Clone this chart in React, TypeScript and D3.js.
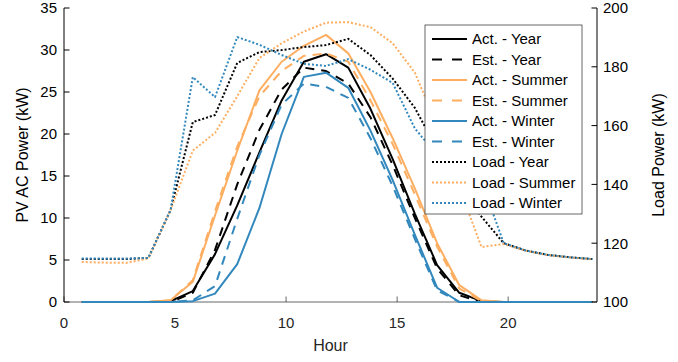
import * as d3 from "d3";

// hours at which values were logged (shifted slightly left of the integer hour)
const hours = [0.8, 1.8, 2.8, 3.8, 4.8, 5.8, 6.8, 7.8, 8.8, 9.8, 10.8, 11.8, 12.8, 13.8, 14.8, 15.8, 16.8, 17.8, 18.8, 19.8, 20.8, 21.8, 22.8, 23.8];

// PV AC power (kW), left axis
const actYear = [0, 0, 0, 0, 0.1, 1.3, 5.7, 11.5, 17.8, 24, 28.6, 29.5, 27.9, 23, 17, 10.5, 4.4, 1.1, 0.1, 0, 0, 0, 0, 0];
const estYear = [0, 0, 0, 0, 0, 1.1, 6.2, 14, 20.5, 25.3, 27.9, 27.5, 26, 22, 16.3, 10, 4, 0.8, 0, 0, 0, 0, 0, 0];
const actSummer = [0, 0, 0, 0, 0.2, 2.4, 10.3, 18, 25.2, 28.6, 30.5, 31.8, 29.6, 25, 19.5, 13.5, 7, 2, 0.2, 0, 0, 0, 0, 0];
const estSummer = [0, 0, 0, 0, 0.2, 2.6, 10.8, 18.5, 24.5, 27.5, 29.3, 29.6, 28.6, 24, 18.8, 12.8, 6.6, 1.6, 0.1, 0, 0, 0, 0, 0];
const actWinter = [0, 0, 0, 0, 0, 0.1, 1, 4.5, 11.2, 20, 26.8, 27.3, 25.5, 20.4, 14.5, 8, 1.7, 0, 0, 0, 0, 0, 0, 0];
const estWinter = [0, 0, 0, 0, 0, 0.2, 1.9, 9.9, 17.5, 23.5, 26, 25.6, 24.3, 19.5, 13.8, 7.5, 1.4, 0, 0, 0, 0, 0, 0, 0];

// Load power (kW), right axis
const loadYear = [114.6, 114.6, 114.6, 115, 131.3, 161.2, 163.6, 181.3, 185, 185.7, 186.7, 187.4, 189.5, 184, 176, 166, 152, 140, 129, 120, 117.5, 116, 115.2, 114.6];
const loadSummer = [113.6, 113.4, 113.3, 114.8, 131.3, 151.5, 157.5, 170, 183, 188, 192, 195, 195.2, 193.5, 188, 178, 160, 139, 118.7, 119.7, 117.4, 115.9, 115.1, 114.5];
const loadWinter = [114.8, 114.8, 114.8, 115, 131.3, 176.5, 169.7, 190.1, 187.5, 184, 181, 180.3, 182.6, 179, 174.5, 159, 150, 146, 141, 120, 117.5, 116, 115.2, 114.6];

const xTicks = [0, 5, 10, 15, 20];
const leftTicks = [0, 5, 10, 15, 20, 25, 30, 35];
const rightTicks = [100, 120, 140, 160, 180, 200];

const BLACK = "#000000";
const ORANGE = "#FDAE61";
const BLUE = "#3288BD";
const DASH = "9,7";
const DOT = "2,2";

const series = [
  { name: "Act. - Year", values: actYear, color: BLACK, dash: null, axis: "L" },
  { name: "Est. - Year", values: estYear, color: BLACK, dash: DASH, axis: "L" },
  { name: "Act. - Summer", values: actSummer, color: ORANGE, dash: null, axis: "L" },
  { name: "Est. - Summer", values: estSummer, color: ORANGE, dash: DASH, axis: "L" },
  { name: "Act. - Winter", values: actWinter, color: BLUE, dash: null, axis: "L" },
  { name: "Est. - Winter", values: estWinter, color: BLUE, dash: DASH, axis: "L" },
  { name: "Load - Year", values: loadYear, color: BLACK, dash: DOT, axis: "R" },
  { name: "Load - Summer", values: loadSummer, color: ORANGE, dash: DOT, axis: "R" },
  { name: "Load - Winter", values: loadWinter, color: BLUE, dash: DOT, axis: "R" },
];

const W = 678, H = 362;
const m = { left: 64, right: 81, top: 8, bottom: 60 };
const FONT = "'Liberation Sans', Arial, Helvetica, sans-serif";

export default function App() {
  const x = d3.scaleLinear().domain([0, 24]).range([m.left, W - m.right]);
  const yL = d3.scaleLinear().domain([0, 35]).range([H - m.bottom, m.top]);
  const yR = d3.scaleLinear().domain([100, 200]).range([H - m.bottom, m.top]);
  const x0 = x(0), x1 = x(24), yb = yL(0), yt = yL(35);

  const paths = series.map(s => {
    const ys = s.axis === "L" ? yL : yR;
    const gen = d3.line<number>().x((_, i) => x(hours[i])).y(v => ys(v));
    return { ...s, d: gen(s.values) || "" };
  });

  const lg = { x: 425, y: 25, w: 157, h: 189, row: 20.5 };

  return (
    <svg width={W} height={H} style={{ position: "absolute", left: 0, top: 0, background: "#fff" }} fontFamily={FONT}>
      {/* bottom axis */}
      <line x1={x0} x2={x1} y1={yb} y2={yb} stroke="#262626" strokeWidth={0.7} />
      {xTicks.map(t => (
        <g key={"x" + t}>
          <line x1={x(t)} x2={x(t)} y1={yb} y2={yb - 5.5} stroke="#262626" strokeWidth={0.7} />
          <text x={x(t)} y={yb + 26} textAnchor="middle" fontSize={15} fill="#262626">{t}</text>
        </g>
      ))}
      <text x={(x0 + x1) / 2} y={yb + 49} textAnchor="middle" fontSize={16} fill="#262626">Hour</text>

      {/* data */}
      {paths.map(p => (
        <path key={p.name} d={p.d} fill="none" stroke={p.color} strokeWidth={2}
          strokeDasharray={p.dash || undefined} strokeLinejoin="round" />
      ))}

      {/* left axis */}
      <line x1={x0} x2={x0} y1={yb} y2={yt} stroke="#000" strokeWidth={1} />
      {leftTicks.map(t => (
        <g key={"l" + t}>
          <line x1={x0} x2={x0 + 5.5} y1={yL(t)} y2={yL(t)} stroke="#000" strokeWidth={1} />
          <text x={x0 - 7} y={yL(t)} dy="0.36em" textAnchor="end" fontSize={15} fill="#000">{t}</text>
        </g>
      ))}
      <text transform={`translate(22,${(yb + yt) / 2}) rotate(-90)`} textAnchor="middle" dy="0.36em" fontSize={16} fill="#000">PV AC Power (kW)</text>

      {/* right axis */}
      <line x1={x1} x2={x1} y1={yb} y2={yt} stroke="#000" strokeWidth={1} />
      {rightTicks.map(t => (
        <g key={"r" + t}>
          <line x1={x1} x2={x1 - 5.5} y1={yR(t)} y2={yR(t)} stroke="#000" strokeWidth={1} />
          <text x={x1 + 6} y={yR(t)} dy="0.36em" textAnchor="start" fontSize={15} fill="#000">{t}</text>
        </g>
      ))}
      <text transform={`translate(658,${(yb + yt) / 2}) rotate(-90)`} textAnchor="middle" dy="0.36em" fontSize={16} fill="#000">Load Power (kW)</text>

      {/* legend */}
      <rect x={lg.x} y={lg.y} width={lg.w} height={lg.h} fill="#fff" stroke="#262626" strokeWidth={0.7} />
      {series.map((s, i) => {
        const cy = lg.y + 14 + i * lg.row;
        return (
          <g key={"lg" + s.name}>
            <line x1={lg.x + 7} x2={lg.x + 42} y1={cy} y2={cy} stroke={s.color} strokeWidth={2}
              strokeDasharray={s.dash === DASH ? "10,10" : s.dash || undefined} />
            <text x={lg.x + 47} y={cy} dy="0.36em" fontSize={15} fill="#000">{s.name}</text>
          </g>
        );
      })}
    </svg>
  );
}
